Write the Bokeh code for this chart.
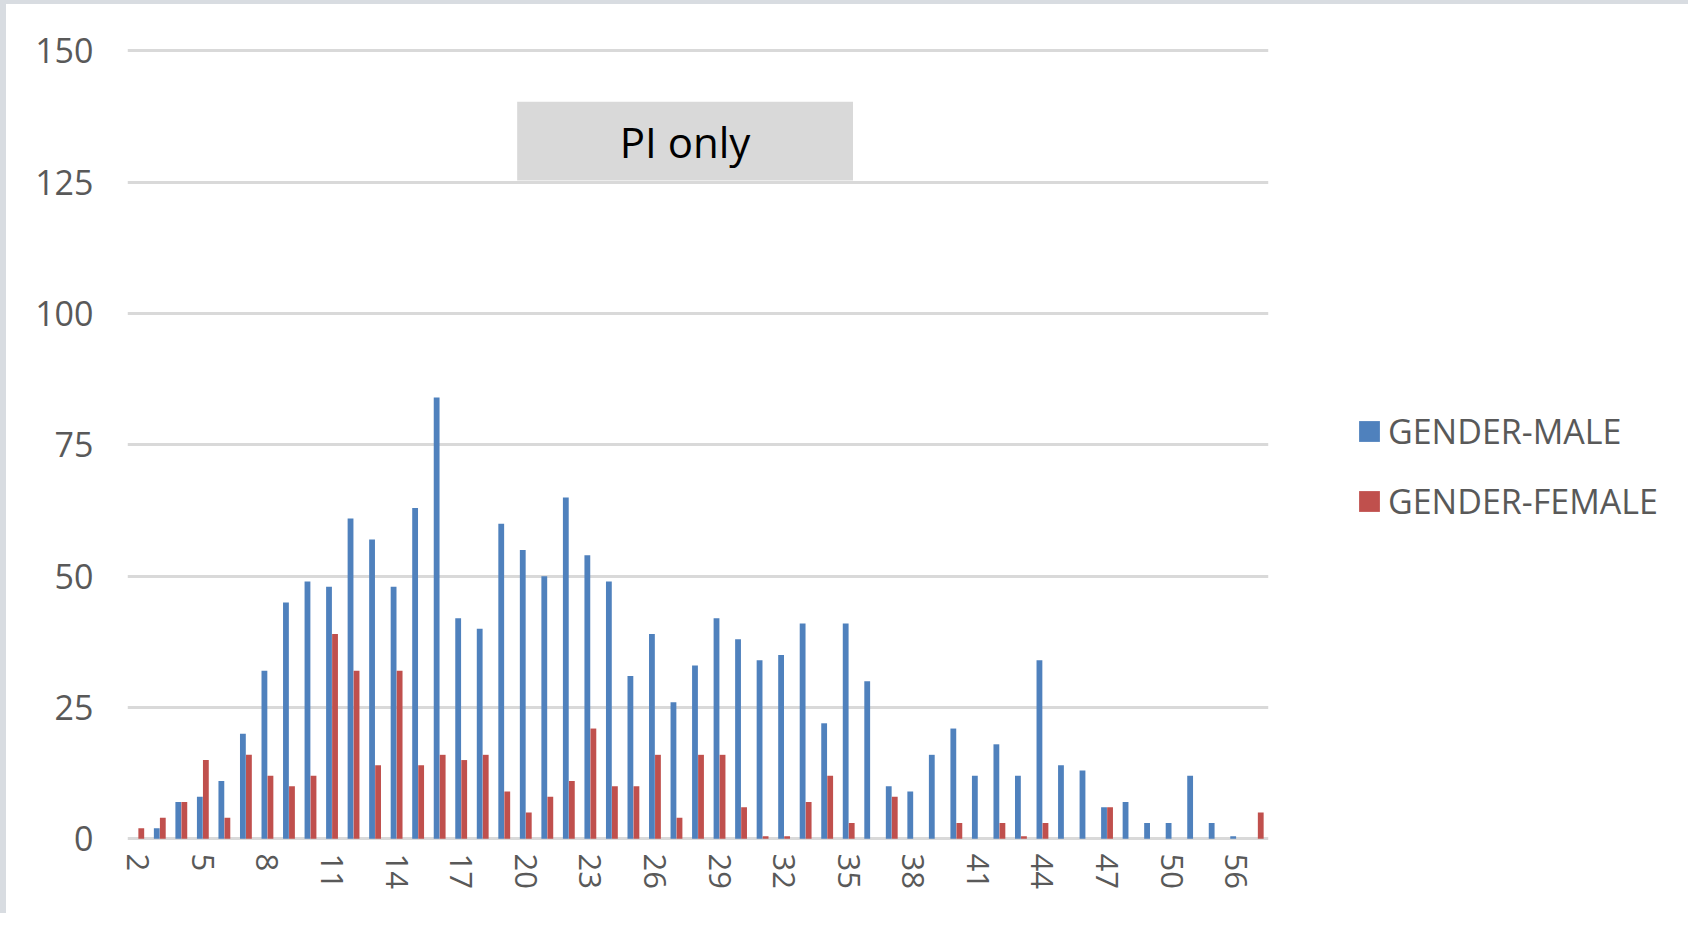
from bokeh.plotting import figure
from bokeh.models import (ColumnDataSource, Range1d, FixedTicker, Legend, LegendItem,
                          BoxAnnotation, Label)
from bokeh.transform import dodge
from bokeh.embed import file_html
from bokeh.resources import INLINE

# ---- data ----
categories = [str(v) for v in range(2, 51)] + ["52", "54", "56", "58"]
male = [0, 2, 7, 8, 11, 20, 32, 45, 49, 48, 61, 57, 48, 63, 84, 42, 40, 60, 55, 50,
        65, 54, 49, 31, 39, 26, 33, 42, 38, 34, 35, 41, 22, 41, 30, 10, 9, 16, 21, 12,
        18, 12, 34, 14, 13, 6, 7, 3, 3, 12, 3, 0.5, 0]
female = [2, 4, 7, 15, 4, 16, 12, 10, 12, 39, 32, 14, 32, 14, 16, 15, 16, 9, 5, 8,
          11, 21, 10, 10, 16, 4, 16, 16, 6, 0.5, 0.5, 7, 12, 3, 0, 8, 0, 0, 3, 0,
          3, 0.5, 3, 0, 0, 6, 0, 0, 0, 0, 0, 0, 5]
y_ticks = [0, 25, 50, 75, 100, 125, 150]
series_names = ["GENDER-MALE", "GENDER-FEMALE"]
title_text = "PI only"

idx = list(range(len(categories)))
src = ColumnDataSource(dict(x=idx, male=male, female=female, cat=categories))

FONT = "Open Sans"
GRAY = "#595959"
BLUE = "#4f81bd"
RED = "#c0504d"

p = figure(frame_width=1141, frame_height=797, output_backend="svg", toolbar_location=None,
           x_range=Range1d(-0.5, len(categories) - 0.5),
           y_range=Range1d(-0.5, 151.2),
           min_border_left=121, min_border_right=0,
           min_border_top=40, min_border_bottom=72)
p.styles = {"border-left": "6px solid #d8dce1", "border-top": "4px solid #d8dce1"}
p.outline_line_color = None
p.background_fill_color = "white"
p.border_fill_color = "white"

r_m = p.vbar(x=dodge("x", -0.14, range=p.x_range), top="male", width=0.27,
             source=src, fill_color=BLUE, line_color=None)
r_f = p.vbar(x=dodge("x", 0.14, range=p.x_range), top="female", width=0.27,
             source=src, fill_color=RED, line_color=None)

# axes
p.xaxis.ticker = FixedTicker(ticks=idx[::3])
p.xaxis.major_label_overrides = {i: categories[i] for i in idx[::3]}
p.xaxis.major_label_orientation = "vertical"
p.yaxis.ticker = FixedTicker(ticks=y_ticks)
for ax in (p.xaxis, p.yaxis):
    ax.axis_line_color = None
    ax.major_tick_line_color = None
    ax.minor_tick_line_color = None
    ax.major_tick_out = 0
    ax.major_tick_in = 0
    ax.major_label_text_font = FONT
    ax.major_label_text_color = GRAY
    ax.major_label_text_font_size = "34px"
p.xaxis.major_label_text_font_size = "31px"
p.yaxis.major_label_standoff = 34
p.xaxis.major_label_standoff = 12

p.xgrid.grid_line_color = None
p.ygrid.ticker = FixedTicker(ticks=y_ticks)
p.ygrid.grid_line_color = "#d9d9d9"
p.ygrid.grid_line_width = 3

# title box inside plot
box = BoxAnnotation(left=17.6, right=33.2, bottom=125.3, top=140.3,
                    fill_color="#d9d9d9", fill_alpha=1.0, line_color=None, level="overlay")
p.add_layout(box)
p.add_layout(Label(x=25.4, y=132.8, text=title_text, text_align="center",
                   text_baseline="middle", text_font=FONT, text_font_size="42px",
                   text_color="black", level="overlay"))

legend = Legend(items=[LegendItem(label=series_names[0], renderers=[r_m]),
                       LegendItem(label=series_names[1], renderers=[r_f])],
                location=(88, 317), orientation="vertical")
legend.label_text_font = FONT
legend.label_text_font_size = "34px"
legend.label_text_color = GRAY
legend.glyph_width = 26
legend.glyph_height = 26
legend.label_height = 40
legend.label_standoff = 6
legend.spacing = 24
legend.padding = 0
legend.margin = 0
legend.border_line_color = None
legend.background_fill_alpha = 0
p.add_layout(legend, "right")

open("out.html", "w").write(file_html(p, INLINE))
